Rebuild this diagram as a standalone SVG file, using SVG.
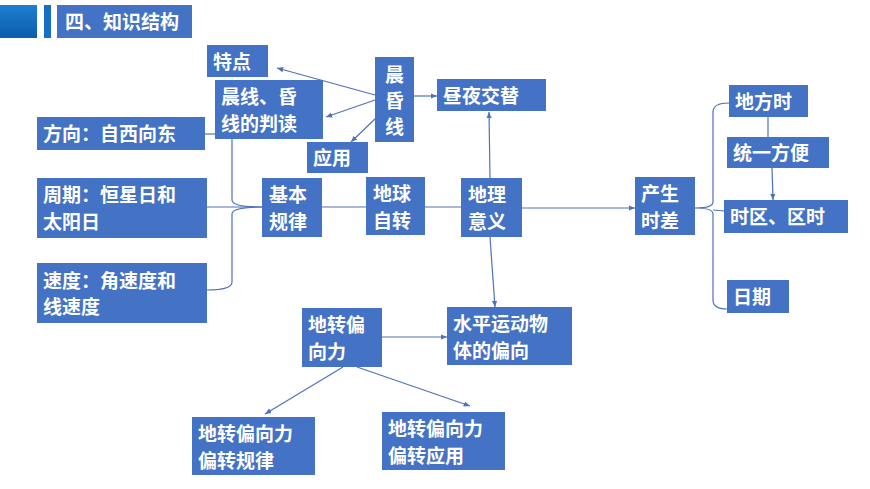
<svg xmlns="http://www.w3.org/2000/svg" width="870" height="489" viewBox="0 0 870 489">
<style>
.n{fill:#4472C4}
.t{fill:#fff;font-family:"Noto Sans CJK SC","Liberation Sans",sans-serif;font-weight:bold;font-size:19px}
.c path,.c line{stroke:#4F72B8;stroke-width:1.2;fill:none}
.a{marker-end:url(#ar)}
</style>
<defs>
<marker id="ar" viewBox="0 0 8 8" refX="7" refY="4" markerWidth="6" markerHeight="6" orient="auto"><path d="M0,1 L7,4 L0,7 z" fill="#4F72B8"/></marker>
<linearGradient id="g" x1="0" y1="0" x2="0" y2="1"><stop offset="0" stop-color="#1E7FD0"/><stop offset="1" stop-color="#0B5CAD"/></linearGradient>
</defs>
<rect width="870" height="489" fill="#fff"/>
<g id="header">
<rect x="0" y="5" width="37" height="33" fill="url(#g)"/>
<rect x="44" y="5" width="7" height="33" fill="#1570C4"/>
<rect x="57" y="5" width="135" height="33" class="n"/>
<text x="65" y="29" class="t" font-size="20">四、知识结构</text>
</g>
<g class="c">
<line class="a" x1="375" y1="95" x2="277" y2="68"/>
<line class="a" x1="375" y1="100" x2="326" y2="117"/>
<line class="a" x1="376" y1="118" x2="351" y2="142"/>
<line class="a" x1="414" y1="96" x2="437" y2="96"/>
<line class="a" x1="490" y1="178" x2="489" y2="112"/>
<line class="a" x1="490" y1="237" x2="495" y2="307"/>
<line x1="322" y1="207" x2="366" y2="207"/>
<line x1="425" y1="207" x2="461" y2="207"/>
<line class="a" x1="522" y1="208" x2="635" y2="208"/>
<line x1="205" y1="134" x2="215" y2="134"/>
<line x1="207" y1="207" x2="262" y2="207"/>
<path d="M232,139 V200 Q232,207 262,207 Q232,207 232,214 V282 Q232,290 207,290"/>
<path d="M729,103 Q713,103 713,112 V202 Q713,208 695,208 Q713,208 713,214 V300 Q713,309 727,309"/>
<line x1="713" y1="210" x2="724" y2="211"/>
<line x1="768" y1="117" x2="768" y2="137"/>
<line class="a" x1="772" y1="168" x2="773" y2="200"/>
<line class="a" x1="382" y1="337" x2="447" y2="337"/>
<line class="a" x1="343" y1="367" x2="265" y2="414"/>
<line class="a" x1="357" y1="367" x2="470" y2="406"/>
</g>
<g id="tedian"><rect x="207" y="45" width="61" height="32" class="n"/><text x="213" y="69" class="t">特点</text></g>
<g id="panduan"><rect x="215" y="80" width="108" height="59" class="n"/><text x="221" y="104" class="t">晨线、昏</text><text x="221" y="131" class="t">线的判读</text></g>
<g id="fangxiang"><rect x="37" y="117" width="168" height="33" class="n"/><text x="43" y="141" class="t">方向：自西向东</text></g>
<g id="chenhun"><rect x="375" y="57" width="39" height="85" class="n"/><text x="385" y="82" class="t">晨</text><text x="385" y="108" class="t">昏</text><text x="385" y="134" class="t">线</text></g>
<g id="zhouye"><rect x="437" y="79" width="109" height="32" class="n"/><text x="443" y="103" class="t">昼夜交替</text></g>
<g id="yingyong"><rect x="307" y="142" width="61" height="31" class="n"/><text x="313" y="165" class="t">应用</text></g>
<g id="zhouqi"><rect x="37" y="178" width="170" height="60" class="n"/><text x="43" y="202" class="t">周期：恒星日和</text><text x="43" y="229" class="t">太阳日</text></g>
<g id="jiben"><rect x="262" y="178" width="60" height="59" class="n"/><text x="269" y="202" class="t">基本</text><text x="269" y="229" class="t">规律</text></g>
<g id="zizhuan"><rect x="366" y="177" width="59" height="58" class="n"/><text x="373" y="201" class="t">地球</text><text x="373" y="228" class="t">自转</text></g>
<g id="yiyi"><rect x="461" y="178" width="61" height="59" class="n"/><text x="468" y="202" class="t">地理</text><text x="468" y="229" class="t">意义</text></g>
<g id="sudu"><rect x="37" y="263" width="170" height="60" class="n"/><text x="43" y="288" class="t">速度：角速度和</text><text x="43" y="314" class="t">线速度</text></g>
<g id="shicha"><rect x="635" y="177" width="60" height="58" class="n"/><text x="641" y="201" class="t">产生</text><text x="641" y="228" class="t">时差</text></g>
<g id="difangshi"><rect x="729" y="85" width="79" height="32" class="n"/><text x="735" y="109" class="t">地方时</text></g>
<g id="tongyi"><rect x="727" y="137" width="102" height="31" class="n"/><text x="733" y="160" class="t">统一方便</text></g>
<g id="shiqu"><rect x="724" y="200" width="124" height="33" class="n"/><text x="730" y="224" class="t">时区、区时</text></g>
<g id="riqi"><rect x="727" y="280" width="62" height="33" class="n"/><text x="733" y="304" class="t">日期</text></g>
<g id="dizhuan"><rect x="302" y="308" width="80" height="59" class="n"/><text x="308" y="332" class="t">地转偏</text><text x="308" y="359" class="t">向力</text></g>
<g id="shuiping"><rect x="447" y="307" width="125" height="58" class="n"/><text x="453" y="331" class="t">水平运动物</text><text x="453" y="358" class="t">体的偏向</text></g>
<g id="guilv"><rect x="192" y="417" width="123" height="58" class="n"/><text x="198" y="441" class="t">地转偏向力</text><text x="198" y="468" class="t">偏转规律</text></g>
<g id="pzyy"><rect x="382" y="412" width="123" height="58" class="n"/><text x="388" y="436" class="t">地转偏向力</text><text x="388" y="463" class="t">偏转应用</text></g>
</svg>
